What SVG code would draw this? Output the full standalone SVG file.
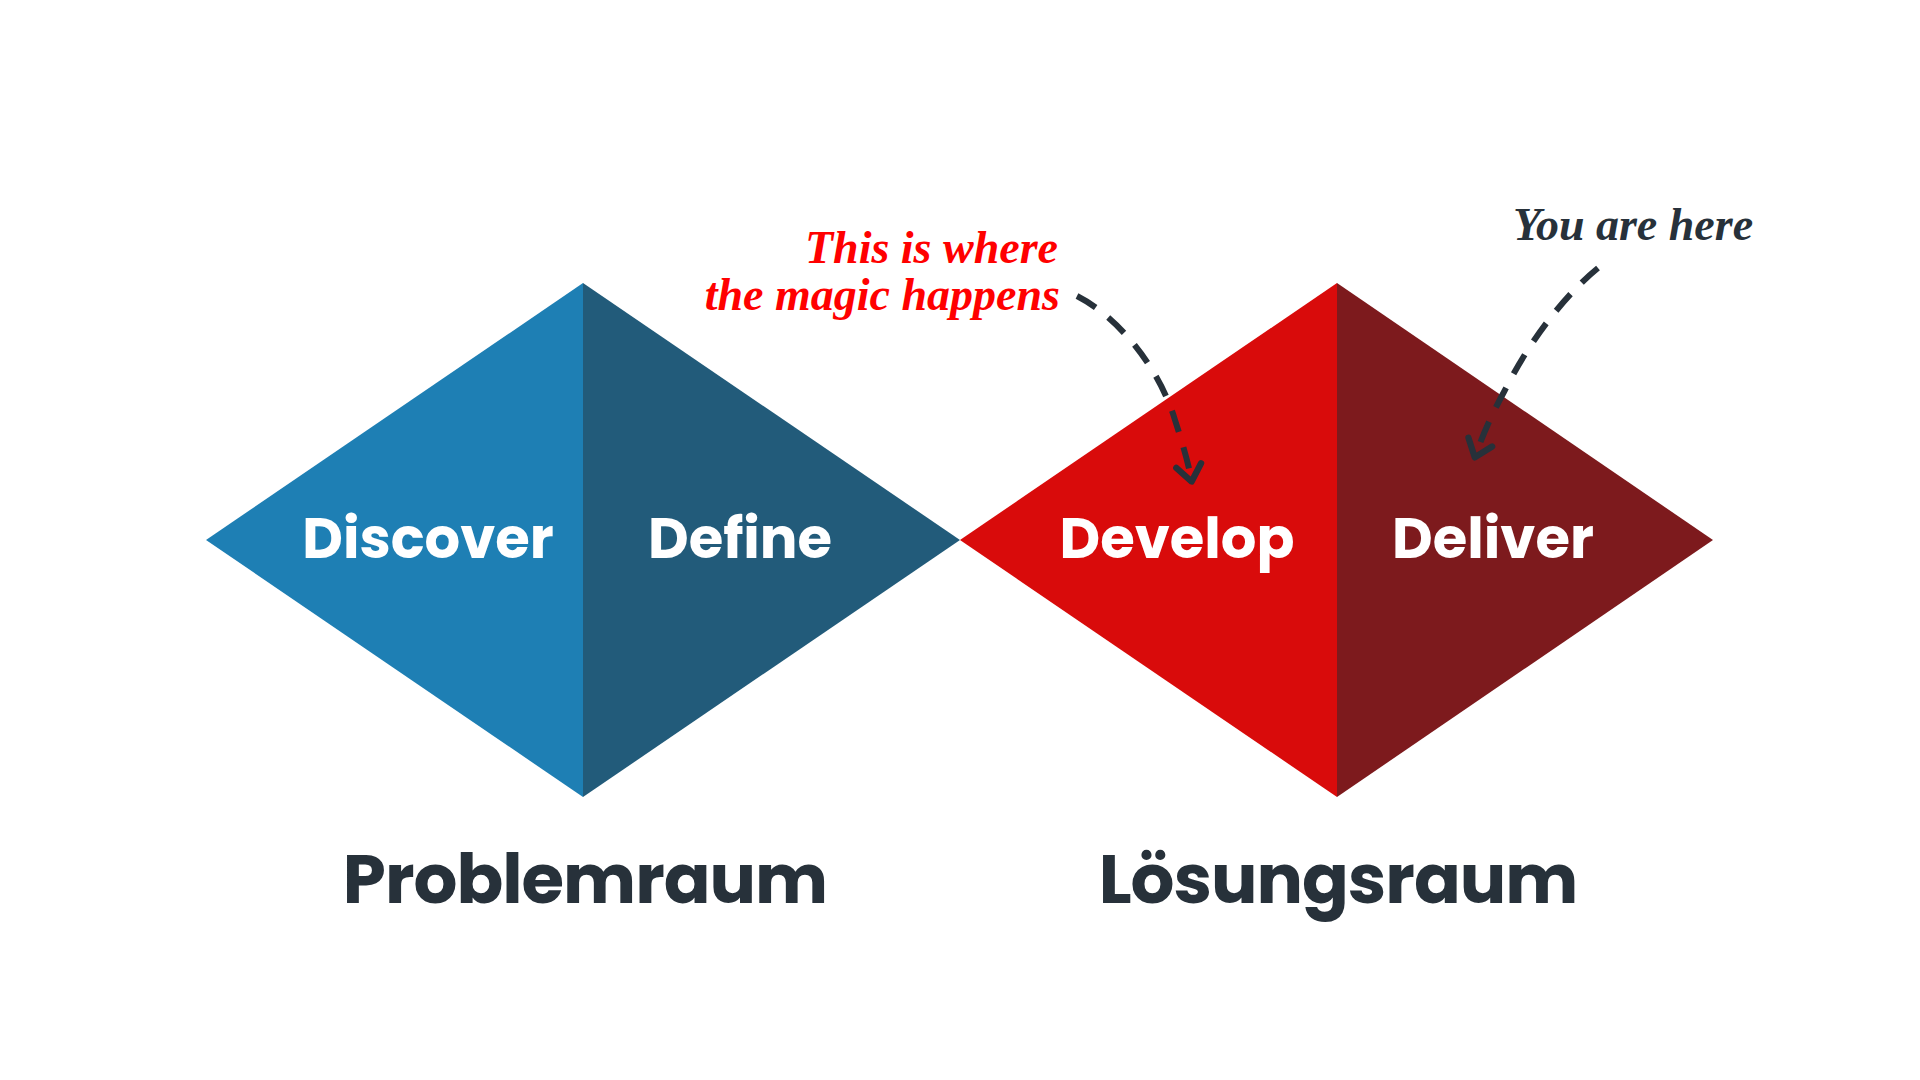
<svg xmlns="http://www.w3.org/2000/svg" width="1920" height="1080" viewBox="0 0 1920 1080">
<style>
.lbl{font-family:Poppins,Inter,"Open Sans",sans-serif;font-weight:700;fill:#ffffff;text-anchor:middle;font-size:56px}
.big{font-family:Poppins,Inter,"Open Sans",sans-serif;font-weight:700;fill:#27313A;text-anchor:middle;font-size:69px;letter-spacing:-1px}
.hand{font-family:"Liberation Serif",serif;font-style:italic;font-weight:700;font-size:46px}
.dash{fill:none;stroke:#27313A;stroke-width:6;stroke-dasharray:22 16;marker-end:url(#chev)}
</style>
<defs>
<marker id="chev" viewBox="0 0 20 20" refX="10" refY="10" markerWidth="6" markerHeight="6" orient="auto" markerUnits="strokeWidth">
<polyline points="3,3 12,10 3,17" fill="none" stroke="#27313A" stroke-width="3.5" stroke-linecap="round" stroke-linejoin="round"/>
</marker>
</defs>
<rect width="1920" height="1080" fill="#ffffff"/>
<g id="discover">
<polygon points="206,540 583,283 583,797" fill="#1E7FB4"/>
<text class="lbl" x="428" y="558">Discover</text>
</g>
<g id="define">
<polygon points="583,283 960,540 583,797" fill="#225B7A"/>
<text class="lbl" x="740" y="558">Define</text>
</g>
<g id="develop">
<polygon points="960,540 1337,283 1337,797" fill="#D90B0B"/>
<text class="lbl" x="1177" y="558">Develop</text>
</g>
<g id="deliver">
<polygon points="1337,283 1713,540 1337,797" fill="#7D1A1D"/>
<text class="lbl" x="1493" y="558">Deliver</text>
</g>
<g id="problemraum">
<text class="big" x="585" y="903">Problemraum</text>
</g>
<g id="loesungsraum">
<text class="big" x="1338" y="903">Lösungsraum</text>
</g>
<g id="note-magic">
<text class="hand" fill="#FF0000" text-anchor="end" x="1058" y="263">This is where</text>
<text class="hand" fill="#FF0000" text-anchor="end" x="1060" y="310">the magic happens</text>
</g>
<g id="note-here">
<text class="hand" fill="#27313A" text-anchor="middle" x="1633" y="240">You are here</text>
</g>
<g id="connectors">
<path class="dash" d="M1077,296 C1120,318 1160,370 1175,420 C1183,445 1188,462 1191,478"/>
<path class="dash" d="M1598,268 C1565,295 1530,340 1505,390 C1492,414 1484,432 1476,454"/>
</g>
</svg>
